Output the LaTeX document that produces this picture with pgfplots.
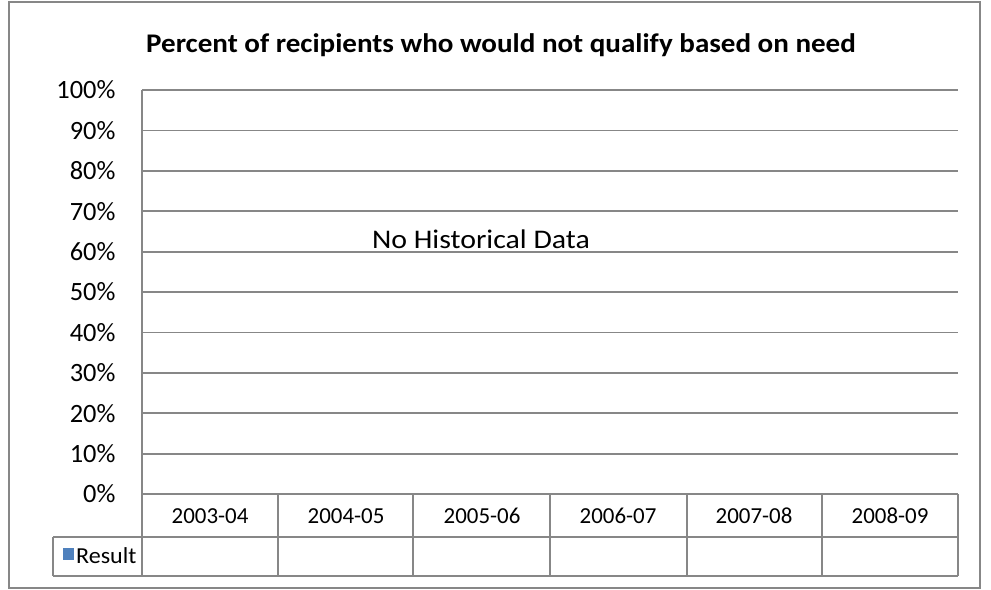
\documentclass[border=0pt]{standalone}
\usepackage{pgfplots}
\pgfplotsset{compat=1.18}
\usepackage{fontspec}
\setmainfont{Carlito}
\definecolor{gridc}{HTML}{878787}
\definecolor{frame}{HTML}{878787}
\definecolor{serblue}{HTML}{4F81BD}
\begin{document}
\begin{tikzpicture}
\useasboundingbox (0bp,0bp) rectangle (991bp,-590bp);
\begin{scope}[x=1bp,y=-1bp]
\draw[frame, line width=1.8bp] (9,2) rectangle (980,588);
\node[font=\fontsize{27}{30}\selectfont\bfseries] at (501,45) {\scalebox{1.08}[1]{Percent of recipients who would not qualify based on need}};
\end{scope}
\begin{axis}[
  at={(142bp,-494bp)}, anchor=origin,
  scale only axis, width=816bp, height=404bp,
  xmin=0, xmax=6, ymin=0, ymax=100,
  axis x line*=bottom, axis y line*=left,
  axis line style={gridc, line width=1.8bp},
  ytick={0,10,...,100},
  yticklabel={\pgfmathprintnumber{\tick}\%},
  ymajorgrids, grid style={gridc, line width=1.8bp},
  major tick length=0pt,
  y tick label style={font=\fontsize{26.5}{30}\selectfont, anchor=east},
  yticklabel style={xshift=-26bp+3pt},
  /pgf/number format/assume math mode=true,
  xtick={0.5,1.5,2.5,3.5,4.5,5.5},
  xticklabels={2003-04,2004-05,2005-06,2006-07,2007-08,2008-09},
  x tick label style={font=\fontsize{23}{28}\selectfont, anchor=base, text height=0pt, text depth=0pt, yshift=-29bp},
  clip=false,
]
\addplot[draw=none, forget plot] coordinates {(0,0)};
\end{axis}
\begin{scope}[x=1bp,y=-1bp]
\draw[frame, line width=1.8bp] (142,494) -- (958,494);
\draw[frame, line width=1.8bp] (53,537) -- (958,537);
\draw[frame, line width=1.8bp] (53,576) -- (958,576);
\draw[frame, line width=1.8bp] (53,537) -- (53,576);
\foreach \x in {142,278,413,550,687,822,958} \draw[frame, line width=1.8bp] (\x,494) -- (\x,576);
\fill[serblue] (63,548) rectangle (74,560);
\node[anchor=base west, inner sep=0pt, font=\fontsize{23}{28}\selectfont] at (76,563) {\scalebox{1.05}[1]{Result}};
\node[font=\fontsize{27}{30}\selectfont] at (481,239) {\scalebox{1.11}[1]{No Historical Data}};
\end{scope}
\end{tikzpicture}
\end{document}
